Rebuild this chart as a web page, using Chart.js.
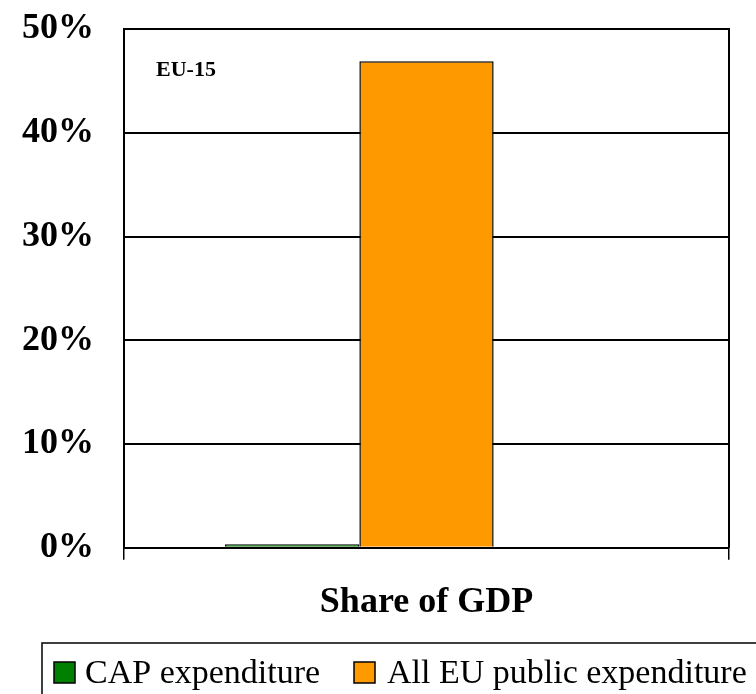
<!DOCTYPE html>
<html>
<head>
<meta charset="utf-8">
<script src="https://cdn.jsdelivr.net/npm/chart.js@4.4.1/dist/chart.umd.min.js"></script>
<style>
  html, body { margin: 0; padding: 0; background: #fff; }
  #wrap { width: 756px; height: 694px; }
</style>
</head>
<body>
<div id="wrap"><canvas id="chart" width="756" height="694"></canvas></div>
<script>
// données (part du PIB, %)
const categories = ['Share of GDP'];
const seriesNames = ['CAP expenditure', 'All EU public expenditure', ''];
const capValues = [0.35];
const allEuValues = [46.9];
const emptyValues = [null]; // troisième série vide (réserve la place comme dans Excel)
const yTicks = [0, 10, 20, 30, 40, 50];
const panelLabel = 'EU-15';

const serif = "'Liberation Serif', 'Times New Roman', serif";

// positions de la légende dessinée à la main (x de la case, x du texte)
const legendSlots = [
    { box: 54, text: 85 },
    { box: 354, text: 387 }
];

// cadre haut/droite, étiquette EU-15, légende encadrée
const framePlugin = {
    id: 'frame',
    afterDraw(chart) {
        const ctx = chart.ctx;
        const a = chart.chartArea;
        ctx.save();
        ctx.strokeStyle = '#000';
        ctx.lineWidth = 2;
        ctx.beginPath();
        ctx.moveTo(a.left, a.top);
        ctx.lineTo(a.right, a.top);
        ctx.lineTo(a.right, a.bottom);
        ctx.stroke();

        ctx.fillStyle = '#000';
        ctx.font = "bold 22px " + serif;
        ctx.textBaseline = 'middle';
        ctx.textAlign = 'left';
        ctx.fillText(panelLabel, a.left + 32, a.top + 41);

        // légende
        ctx.lineWidth = 1.5;
        ctx.strokeRect(42, 643, 760, 80);
        const items = chart.data.datasets.filter(d => d.label !== '');
        ctx.font = "34px " + serif;
        ctx.textBaseline = 'alphabetic';
        items.forEach((d, i) => {
            const s = legendSlots[i];
            ctx.fillStyle = d.backgroundColor;
            ctx.fillRect(s.box, 662, 21, 21);
            ctx.lineWidth = 1.5;
            ctx.strokeRect(s.box, 662, 21, 21);
            ctx.fillStyle = '#000';
            ctx.fillText(d.label, s.text, 683);
        });
        ctx.restore();
    }
};

new Chart(document.getElementById('chart'), {
    type: 'bar',
    data: {
        labels: categories,
        datasets: [
            { label: seriesNames[0], data: capValues, backgroundColor: '#008000', borderColor: '#000', borderWidth: 1.5 },
            { label: seriesNames[1], data: allEuValues, backgroundColor: '#FF9900', borderColor: '#000', borderWidth: 1.5 },
            { label: seriesNames[2], data: emptyValues, backgroundColor: '#fff', borderWidth: 0 }
        ]
    },
    options: {
        responsive: false,
        animation: false,
        layout: { padding: { top: 29, right: 27, left: 22, bottom: 70 } },
        datasets: { bar: { categoryPercentage: 0.666, barPercentage: 1 } },
        scales: {
            x: {
                grid: { offset: true, drawOnChartArea: false, drawTicks: true, tickLength: 12, color: '#000', lineWidth: 1.5 },
                border: { display: true, color: '#000', width: 2 },
                ticks: { display: false },
                title: {
                    display: true,
                    text: categories[0],
                    color: '#000',
                    font: { family: serif, size: 36, weight: 'bold' },
                    padding: { top: 21, bottom: 0 }
                }
            },
            y: {
                min: 0,
                max: 50,
                afterBuildTicks(axis) {
                    axis.ticks = yTicks.map(v => ({ value: v }));
                },
                grid: { color: '#000', lineWidth: 2, drawTicks: true, tickLength: 30, tickColor: 'rgba(0,0,0,0)' },
                border: { display: true, color: '#000', width: 2 },
                ticks: {
                    padding: 0,
                    color: '#000',
                    font: { family: serif, size: 36, weight: 'bold' },
                    callback: v => v + '%'
                }
            }
        },
        plugins: {
            legend: { display: false },
            tooltip: { enabled: false }
        }
    },
    plugins: [framePlugin]
});
</script>
</body>
</html>
